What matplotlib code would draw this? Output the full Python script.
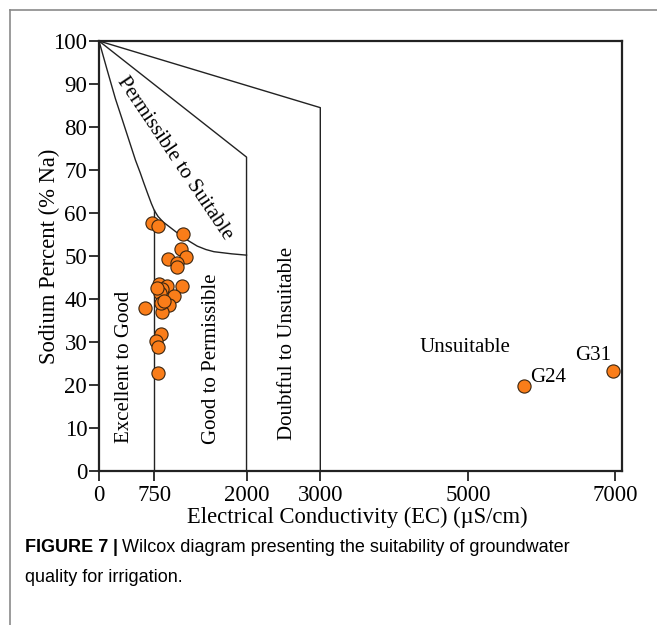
import matplotlib
matplotlib.use("Agg")
import matplotlib.pyplot as plt
from matplotlib.lines import Line2D

# ---------------- data ----------------
ec_samples = [720, 797, 1135, 1105, 1173, 938, 1060, 1060, 810, 924, 1128, 856,
              833, 1023, 629, 955, 856, 838, 842, 779, 802, 797, 790, 880]
na_samples = [57.6, 57.0, 55.1, 51.6, 49.7, 49.3, 48.3, 47.5, 43.5, 43.0, 43.0, 42.3,
              41.3, 40.7, 37.8, 38.6, 37.0, 39.0, 31.9, 30.2, 28.9, 22.7, 42.6, 39.6]
ec_labeled = [5760, 6966]
na_labeled = [19.8, 23.3]
labeled_names = ["G24", "G31"]

# class boundaries of the Wilcox diagram
ec_curve1 = [0, 110, 222, 312, 403, 494, 560, 607, 660, 710, 750, 800, 870, 969,
             1150, 1332, 1450, 1558, 1800, 2000]
na_curve1 = [100, 93.3, 86.6, 81.9, 77.1, 72.3, 69.3, 67.0, 64.5, 62.2, 60.6, 59.2,
             57.9, 56.6, 54.2, 52.3, 51.5, 51.0, 50.5, 50.2]
ec_line2 = [0, 2000, 2000]
na_line2 = [100, 73.0, 0]
ec_line3 = [0, 3000, 3000]
na_line3 = [100, 84.5, 0]
ec_line750 = [750, 750]
na_line750 = [60.6, 0]

x_ticks = [0, 750, 2000, 3000, 5000, 7000]
y_ticks = [0, 10, 20, 30, 40, 50, 60, 70, 80, 90, 100]

serif = ["Liberation Serif", "DejaVu Serif"]
cap_font = ["Liberation Sans", "DejaVu Sans"]

fig = plt.figure(figsize=(6.57, 6.25), dpi=100)
ax = fig.add_axes([99 / 657, 1 - 471 / 625, (622 - 99) / 657, (471 - 41) / 625])

lc = "#222222"
ax.plot(ec_curve1, na_curve1, color=lc, lw=1.0)
ax.plot(ec_line2, na_line2, color=lc, lw=1.0)
ax.plot(ec_line3, na_line3, color=lc, lw=1.0)
ax.plot(ec_line750, na_line750, color=lc, lw=1.0)

ax.scatter(ec_samples, na_samples, s=90, facecolor="#FA7D19", edgecolor="#3a2510",
           linewidth=0.8, zorder=3)
ax.scatter(ec_labeled, na_labeled, s=90, facecolor="#FA7D19", edgecolor="#3a2510",
           linewidth=0.8, zorder=3)
ax.text(ec_labeled[0] + 90, na_labeled[0] + 2.0, labeled_names[0], ha="left", va="center",
        fontsize=15, family=serif)
ax.text(ec_labeled[1] - 30, na_labeled[1] + 3.6, labeled_names[1], ha="right", va="center",
        fontsize=15, family=serif)

ax.set_xlim(0, 7090)
ax.set_ylim(0, 100)
ax.set_xticks(x_ticks)
ax.set_yticks(y_ticks)
ax.tick_params(direction="out", length=7, width=1.3, labelsize=16.5, color="#222222")
ax.tick_params(axis="x", pad=3)
ax.tick_params(axis="y", pad=1.5)
for lab in ax.get_xticklabels() + ax.get_yticklabels():
    lab.set_family(serif)
for sp in ax.spines.values():
    sp.set_linewidth(1.6)
    sp.set_color("#222222")

ax.set_xlabel("Electrical Conductivity (EC) (\u00b5S/cm)", fontsize=16.3, family=serif, va="center")
ax.xaxis.set_label_coords(0.493, -0.107)
ax.set_ylabel("Sodium Percent (% Na)", fontsize=16.3, family=serif, va="center")
ax.yaxis.set_label_coords(-0.095, 0.5)

# zone labels
ax.text(1019, 72.8, "Permissible to Suitable", rotation=-56, ha="center", va="center",
        fontsize=15, family=serif, rotation_mode="anchor")
ax.text(350, 24.3, "Excellent to Good", rotation=90, ha="center", va="center",
        fontsize=15, family=serif)
ax.text(1530, 26.2, "Good to Permissible", rotation=90, ha="center", va="center",
        fontsize=15, family=serif)
ax.text(2550, 29.7, "Doubtful to Unsuitable", rotation=90, ha="center", va="center",
        fontsize=15, family=serif)
ax.text(4959, 28.7, "Unsuitable", ha="center", va="center", fontsize=15, family=serif)

# outer frame (top and left)
fig.add_artist(Line2D([10 / 657, 1.0], [1 - 10 / 625, 1 - 10 / 625], color="#8a8a8a", lw=1.2))
fig.add_artist(Line2D([10 / 657, 10 / 657], [0, 1 - 10 / 625], color="#8a8a8a", lw=1.2))

# caption
fig.canvas.draw()
r = fig.canvas.get_renderer()
x0 = 25 / 657
y1 = 1 - 548 / 625
cfs = 13.0
t1 = fig.text(x0, y1, "FIGURE 7", fontsize=cfs, fontweight="bold", family=cap_font,
              va="center", ha="left")
bb = t1.get_window_extent(r)
t2 = fig.text(bb.x1 / 657 + 0.007, y1, "|", fontsize=cfs, fontweight="bold", family=cap_font,
              va="center", ha="left")
bb2 = t2.get_window_extent(r)
fig.text(bb2.x1 / 657 + 0.007, y1, "Wilcox diagram presenting the suitability of groundwater",
         fontsize=cfs, family=cap_font, va="center", ha="left")
fig.text(x0, 1 - 578 / 625, "quality for irrigation.", fontsize=cfs, family=cap_font,
         va="center", ha="left")

fig.savefig("out.png", dpi=100)
